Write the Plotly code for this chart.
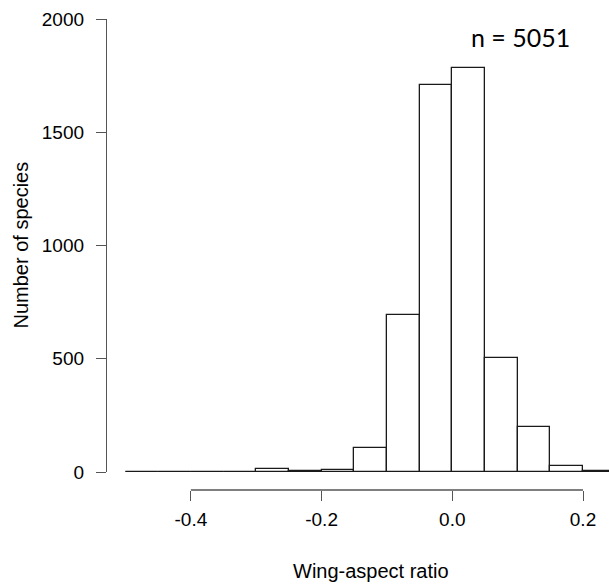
import plotly.graph_objects as go

# Histogram data: bin edges (width 0.05) and counts
bin_start = -0.5
bin_width = 0.05
counts = [0, 0, 0, 0, 14, 4, 9, 106, 693, 1708, 1785, 505, 199, 25, 3]
x_ticks = [-0.4, -0.2, 0.0, 0.2]
x_tick_labels = ["-0.4", "-0.2", "0.0", "0.2"]
y_ticks = [0, 500, 1000, 1500, 2000]
y_tick_labels = ["0", "500", "1000", "1500", "2000"]
n_label = "n = 5051"

edges = [round(bin_start + i * bin_width, 4) for i in range(len(counts) + 1)]
centers = [(edges[i] + edges[i + 1]) / 2 for i in range(len(counts))]

W, H = 609, 586
L, R, T, B = 107, 0, 19, 96
plot_h = H - T - B
# pixel mapping (from reference): 0.0 at x=452.3, 653.5 px per unit
px0, ppu = 452.3, 653.5
plot_w = W - L - R
x_lo = (L - px0) / ppu
x_hi = (W - R - px0) / ppu

y_dom_lo = (H - B - 472) / plot_h

fig = go.Figure()
fig.add_trace(go.Bar(
    x=centers, y=counts, width=[bin_width] * len(counts),
    marker=dict(color="white", line=dict(color="#1a1a1a", width=1.3)),
    showlegend=False, hoverinfo="x+y",
))

# zero-count bins drawn as a flat baseline, like R's hist()
fig.add_shape(type="line", xref="x", yref="y",
              x0=edges[0], x1=edges[-1], y0=0, y1=0,
              line=dict(color="#1a1a1a", width=1.3))

# R-style x axis line spanning first to last tick
fig.add_shape(type="line", xref="x", yref="paper",
              x0=x_ticks[0], x1=x_ticks[-1], y0=0, y1=0,
              line=dict(color="#555555", width=1.3))

tick_font = dict(family="Liberation Sans, Arial, sans-serif", size=19, color="black")
title_font = dict(family="Liberation Sans, Arial, sans-serif", size=20, color="black")

fig.update_layout(
    width=W, height=H,
    margin=dict(l=L, r=R, t=T, b=B, pad=0),
    paper_bgcolor="white", plot_bgcolor="white",
    bargap=0,
    xaxis=dict(
        range=[x_lo, x_hi], anchor="free", position=0,
        tickmode="array", tickvals=x_ticks, ticktext=x_tick_labels,
        ticks="outside", ticklen=10, tickwidth=1.3, tickcolor="#555555",
        showline=False, showgrid=False, zeroline=False,
        tickfont=tick_font, ticklabelstandoff=2,
    ),
    yaxis=dict(
        range=[0, 2000], domain=[y_dom_lo, 1],
        tickmode="array", tickvals=y_ticks, ticktext=y_tick_labels,
        ticks="outside", ticklen=10, tickwidth=1.3, tickcolor="#555555",
        showline=True, linecolor="#555555", linewidth=1.3,
        showgrid=False, zeroline=False,
        tickfont=tick_font, ticklabelstandoff=8,
    ),
    annotations=[
        dict(text="Wing-aspect ratio", xref="paper", yref="paper",
             x=(370.6 - L) / plot_w, y=(H - B - 571) / plot_h,
             xanchor="center", yanchor="middle", showarrow=False,
             font=title_font),
        dict(text="Number of species", xref="paper", yref="paper",
             x=(20 - L) / plot_w, y=(H - B - 245.5) / plot_h,
             xanchor="center", yanchor="middle", textangle=-90,
             showarrow=False, font=title_font),
        dict(text=n_label, xref="paper", yref="paper",
             x=(520 - L) / plot_w, y=(H - B - 37) / plot_h,
             xanchor="center", yanchor="middle", showarrow=False,
             font=dict(family="Lato, Open Sans, sans-serif", size=25, color="black")),
    ],
)

fig.write_html("out.html")
